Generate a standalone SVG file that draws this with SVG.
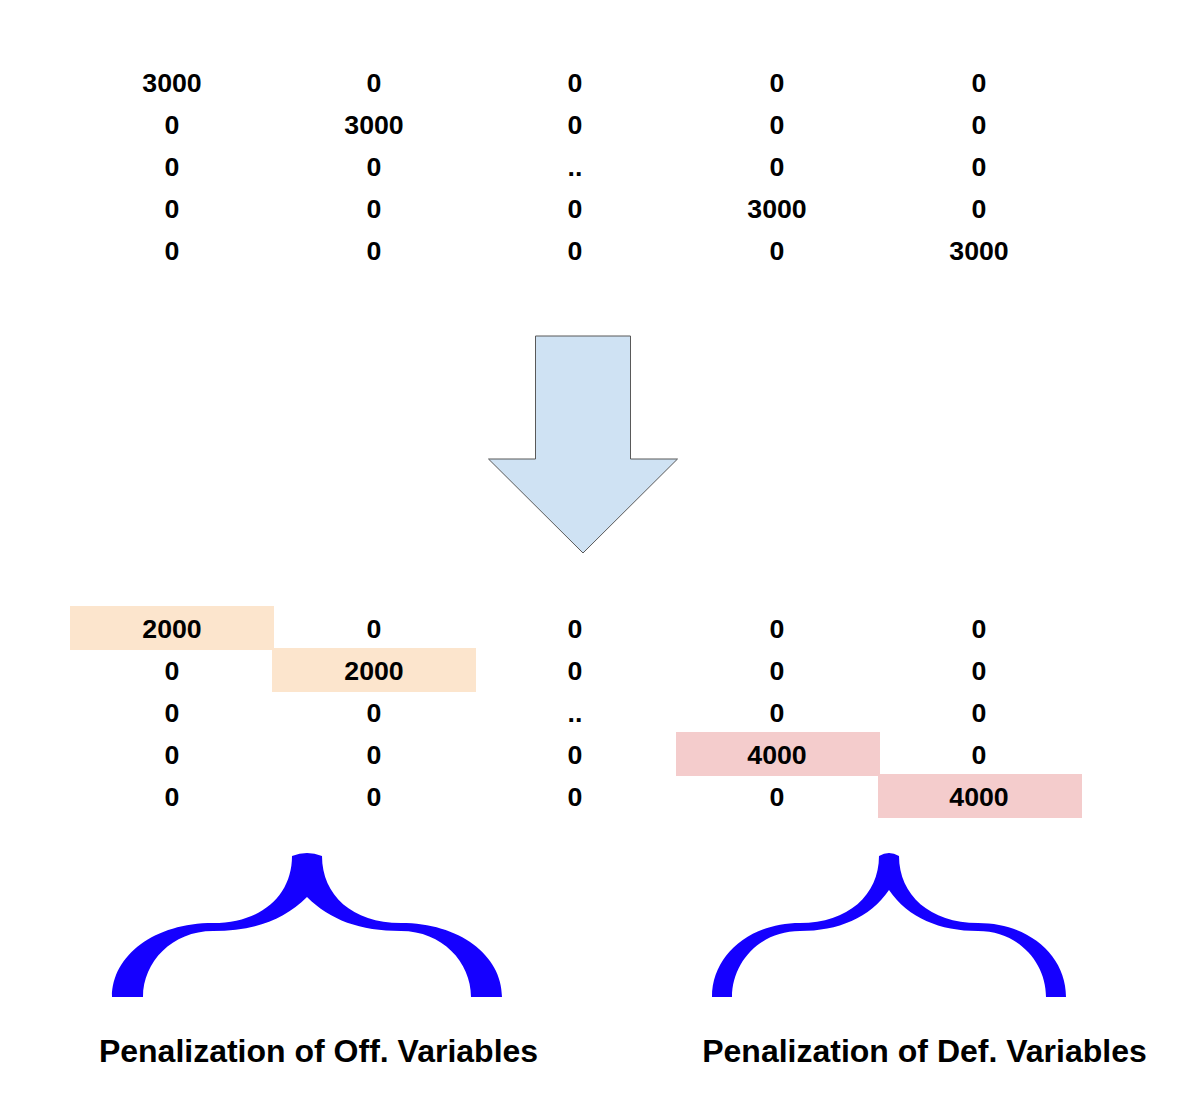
<svg xmlns="http://www.w3.org/2000/svg" width="1178" height="1104" viewBox="0 0 1178 1104">
<style>
.n{font-family:"Liberation Sans",Arial,sans-serif;font-weight:bold;font-size:26.7px;fill:#000;text-anchor:middle}
.t{font-family:"Liberation Sans",Arial,sans-serif;font-weight:bold;font-size:32px;fill:#000;text-anchor:middle}
.off{fill:#FCE5CD}
.def{fill:#F4CCCC}
.brace{fill:#1500FF}
</style>
<rect width="1178" height="1104" fill="#fff"/>
<g id="matrix-top">
<text class="n" x="172" y="92">3000</text><text class="n" x="374" y="92">0</text><text class="n" x="575" y="92">0</text><text class="n" x="777" y="92">0</text><text class="n" x="979" y="92">0</text>
<text class="n" x="172" y="134">0</text><text class="n" x="374" y="134">3000</text><text class="n" x="575" y="134">0</text><text class="n" x="777" y="134">0</text><text class="n" x="979" y="134">0</text>
<text class="n" x="172" y="176">0</text><text class="n" x="374" y="176">0</text><text class="n" x="575" y="176">..</text><text class="n" x="777" y="176">0</text><text class="n" x="979" y="176">0</text>
<text class="n" x="172" y="218">0</text><text class="n" x="374" y="218">0</text><text class="n" x="575" y="218">0</text><text class="n" x="777" y="218">3000</text><text class="n" x="979" y="218">0</text>
<text class="n" x="172" y="260">0</text><text class="n" x="374" y="260">0</text><text class="n" x="575" y="260">0</text><text class="n" x="777" y="260">0</text><text class="n" x="979" y="260">3000</text>
</g>
<g id="arrow">
<path d="M535.5,336 H630.5 V459 H677.5 L583,553 L488.5,459 H535.5 Z" fill="#CFE2F3" stroke="#595959" stroke-width="1"/>
</g>
<g id="matrix-bottom">
<rect class="off" x="70" y="606" width="204" height="44"/>
<rect class="off" x="272" y="648" width="204" height="44"/>
<rect class="def" x="676" y="732" width="204" height="44"/>
<rect class="def" x="878" y="774" width="204" height="44"/>
<text class="n" x="172" y="638">2000</text><text class="n" x="374" y="638">0</text><text class="n" x="575" y="638">0</text><text class="n" x="777" y="638">0</text><text class="n" x="979" y="638">0</text>
<text class="n" x="172" y="680">0</text><text class="n" x="374" y="680">2000</text><text class="n" x="575" y="680">0</text><text class="n" x="777" y="680">0</text><text class="n" x="979" y="680">0</text>
<text class="n" x="172" y="722">0</text><text class="n" x="374" y="722">0</text><text class="n" x="575" y="722">..</text><text class="n" x="777" y="722">0</text><text class="n" x="979" y="722">0</text>
<text class="n" x="172" y="764">0</text><text class="n" x="374" y="764">0</text><text class="n" x="575" y="764">0</text><text class="n" x="777" y="764">4000</text><text class="n" x="979" y="764">0</text>
<text class="n" x="172" y="806">0</text><text class="n" x="374" y="806">0</text><text class="n" x="575" y="806">0</text><text class="n" x="777" y="806">0</text><text class="n" x="979" y="806">4000</text>
</g>
<g id="brace-off">
<path class="brace" d="M112,997 C112,955 155,923 213,923 C262,923 292,895 292,856 Q307,850 322,856 C322,895 352,923 401,923 C459,923 502,955 502,997 H471 C471,962 442,931 401,931 C360,931 330,920 307,897 C284,920 254,931 213,931 C172,931 143,962 143,997 Z"/>
</g>
<g id="brace-def">
<path class="brace" d="M712,997 C712,955 750,923 800,923 C848,923 879,895 879,856 Q889,850 899,856 C899,895 930,923 978,923 C1028,923 1066,955 1066,997 H1046 C1046,962 1018,931 978,931 C940,931 908,918 889,890 C870,918 838,931 800,931 C760,931 732,962 732,997 Z"/>
</g>
<g id="labels">
<text class="t" x="318.5" y="1062">Penalization of Off. Variables</text>
<text class="t" x="924.5" y="1062">Penalization of Def. Variables</text>
</g>
</svg>
